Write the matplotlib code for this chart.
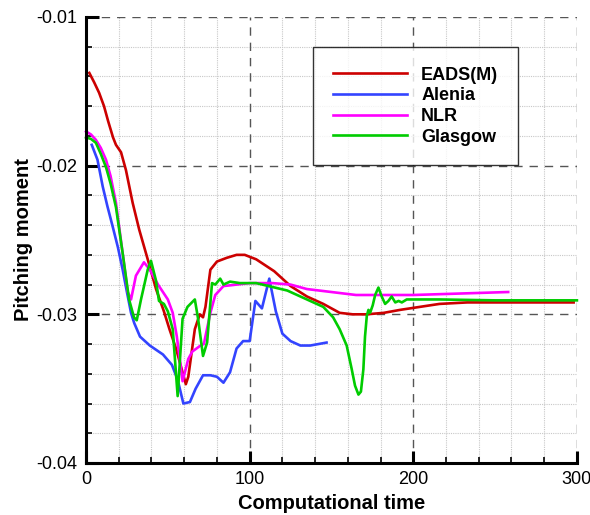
import matplotlib.pyplot as plt
from matplotlib.ticker import MultipleLocator

plt.rcParams['font.family'] = ['Liberation Sans', 'DejaVu Sans']

# EADS(M)
eads_t = [2, 5, 8, 11, 13.5, 16.5, 18.3, 21.4, 24.4, 28.5, 32.5, 37.7, 42.8, 47.6, 51, 55,
          58, 61, 62.5, 64.5, 66.5, 69.5, 71.5, 73, 76, 80, 86, 92, 97, 104, 115, 125, 135,
          145, 155, 163, 171.5, 182, 192, 204, 216, 233, 260, 298]
eads_cm = [-0.01376, -0.0144, -0.0151, -0.0160, -0.0170, -0.0181, -0.0186, -0.0191, -0.0203,
           -0.0225, -0.0243, -0.0263, -0.0283, -0.0298, -0.0310, -0.0323, -0.0335, -0.0347,
           -0.0342, -0.0326, -0.0310, -0.0300, -0.0302, -0.0295, -0.0270, -0.02645, -0.0262,
           -0.0260, -0.0260, -0.0263, -0.0271, -0.0281, -0.0288, -0.0293, -0.0299, -0.0300,
           -0.0300, -0.0299, -0.0297, -0.0295, -0.0293, -0.0292, -0.0292, -0.0292]

# Alenia
alenia_t = [3.5, 7, 10.2, 13, 16.3, 19.5, 22.4, 25, 27.5, 29.5, 33, 39, 47, 52.5, 56, 59.5,
            63.5, 67, 71.5, 76, 80, 84, 88, 92, 96, 100, 103.5, 107.5, 112, 116, 120, 125,
            131, 137, 147]
alenia_cm = [-0.0186, -0.0196, -0.0214, -0.0227, -0.0241, -0.0255, -0.0270, -0.0285, -0.0299,
             -0.0306, -0.0315, -0.0321, -0.0327, -0.0334, -0.0344, -0.0360, -0.0359, -0.0350,
             -0.0341, -0.0341, -0.0342, -0.0346, -0.0339, -0.0323, -0.0318, -0.0318, -0.0291,
             -0.0296, -0.0276, -0.0298, -0.0313, -0.0318, -0.0321, -0.0321, -0.0319]

# NLR
nlr_t = [0, 3, 6, 9, 12.2, 15, 18.3, 22.4, 25.5, 27.5, 30.5, 35.4, 39, 44, 50, 53, 55.5, 59,
         62.5, 65, 70, 72, 76, 79, 84, 100, 114, 125, 135, 150, 165, 200, 258]
nlr_cm = [-0.0177, -0.0179, -0.01826, -0.0188, -0.0196, -0.0207, -0.0225, -0.0259, -0.0285,
          -0.0290, -0.0274, -0.0265, -0.0270, -0.0280, -0.0290, -0.0299, -0.0315, -0.0345,
          -0.0330, -0.0325, -0.0321, -0.0320, -0.0299, -0.0287, -0.0281, -0.0279, -0.0279,
          -0.0280, -0.0283, -0.0285, -0.0287, -0.0287, -0.0285]

# Glasgow
glasgow_t = [0, 3, 6, 9, 12.2, 15, 18.3, 22.4, 26.3, 29.3, 31, 33.6, 37.7, 39.7, 42.7, 44.6,
             47.6, 50, 53, 56, 59, 62, 66.5, 68.5, 71.5, 74, 77, 79, 82, 84, 88, 94, 104, 123,
             131, 145, 151, 155, 159.3, 162.4, 164.4, 166.5, 168, 169.5, 170.5, 171.6, 172.6,
             173.6, 175.2, 176.7, 178.7, 180.7, 182.8, 184.8, 186.8, 189, 191, 193, 196, 204,
             216, 250, 300]
glasgow_cm = [-0.0181, -0.0182, -0.01846, -0.0192, -0.0201, -0.0212, -0.0228, -0.0259,
              -0.0290, -0.0302, -0.0304, -0.0290, -0.0270, -0.0264, -0.0277, -0.0291, -0.0293,
              -0.0298, -0.0310, -0.0355, -0.0303, -0.0295, -0.0290, -0.0303, -0.0328, -0.0319,
              -0.0279, -0.0280, -0.0276, -0.0280, -0.0278, -0.0279, -0.0279, -0.0284, -0.0288,
              -0.0295, -0.0302, -0.0310, -0.0321, -0.0337, -0.0348, -0.0354, -0.0352, -0.0337,
              -0.0315, -0.0301, -0.0297, -0.0299, -0.0294, -0.0287, -0.0282, -0.0288, -0.0293,
              -0.0291, -0.0288, -0.0292, -0.0291, -0.0292, -0.0290, -0.0290, -0.0290, -0.02906,
              -0.02906]

fig = plt.figure(figsize=(5.9, 5.15), dpi=100)
ax = fig.add_axes([0.1458, 0.101, 0.832, 0.866])

ax.plot(eads_t, eads_cm, color='#cc0000', lw=1.9, label='EADS(M)')
ax.plot(alenia_t, alenia_cm, color='#3344ff', lw=1.9, label='Alenia')
ax.plot(nlr_t, nlr_cm, color='#ff00ff', lw=1.9, label='NLR')
ax.plot(glasgow_t, glasgow_cm, color='#00cc00', lw=1.9, label='Glasgow')

ax.set_xlim(0, 300)
ax.set_ylim(-0.04, -0.01)
ax.xaxis.set_major_locator(MultipleLocator(100))
ax.xaxis.set_minor_locator(MultipleLocator(20))
ax.yaxis.set_major_locator(MultipleLocator(0.01))
ax.yaxis.set_minor_locator(MultipleLocator(0.002))

# grid: dashed major, dotted minor
ax.grid(which='minor', color='#c8c8c8', linestyle=(0, (1, 1)), linewidth=0.8)
ax.grid(which='major', color='#555555', linestyle=(0, (6, 5)), linewidth=1.0)
ax.set_axisbelow(True)

for s in ['top', 'right']:
    ax.spines[s].set_visible(False)
for s in ['left', 'bottom']:
    ax.spines[s].set_linewidth(2.2)

ax.tick_params(which='major', direction='in', length=9, width=2.2, labelsize=13, pad=6)
ax.tick_params(which='minor', direction='in', length=4.5, width=1.2)
ax.set_yticks([-0.04, -0.03, -0.02, -0.01])
ax.set_yticklabels(['-0.04', '-0.03', '-0.02', '-0.01'])

ax.set_xlabel('Computational time', fontsize=14.5, fontweight='bold', labelpad=4)
ax.set_ylabel('Pitching moment', fontsize=14.5, fontweight='bold', labelpad=3)

leg = ax.legend(loc='upper left', bbox_to_anchor=(0.462, 0.933), frameon=True, fancybox=False,
                edgecolor='black', handlelength=4.1, handletextpad=0.8, labelspacing=0.2,
                borderpad=1.1, borderaxespad=0, prop={'weight': 'bold', 'size': 13})
leg.get_frame().set_linewidth(1.0)

for line in ax.get_lines():
    line.set_clip_on(False)

plt.savefig('out.png', dpi=100)
plt.close()
